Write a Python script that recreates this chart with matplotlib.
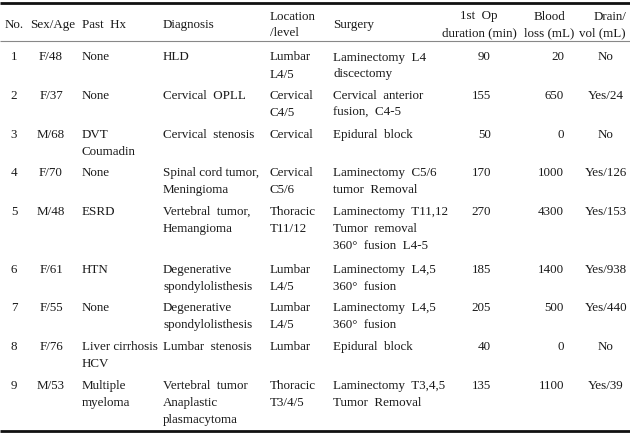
import matplotlib.pyplot as plt

# Table content
numbers = ["1", "2", "3", "4", "5", "6", "7", "8", "9"]
sex_age = ["F/48", "F/37", "M/68", "F/70", "M/48", "F/61", "F/55", "F/76", "M/53"]
past_hx = ["None", "None", "DVT\nCoumadin", "None", "ESRD", "HTN", "None",
           "Liver cirrhosis\nHCV", "Multiple\nmyeloma"]
diagnosis = ["HLD", "Cervical  OPLL", "Cervical  stenosis",
             "Spinal cord tumor,\nMeningioma", "Vertebral  tumor,\nHemangioma",
             "Degenerative\nspondylolisthesis", "Degenerative\nspondylolisthesis",
             "Lumbar  stenosis",
             "Vertebral  tumor\nAnaplastic\nplasmacytoma"]
location = ["Lumbar\nL4/5", "Cervical\nC4/5", "Cervical", "Cervical\nC5/6",
            "Thoracic\nT11/12", "Lumbar\nL4/5", "Lumbar\nL4/5", "Lumbar",
            "Thoracic\nT3/4/5"]
surgery = ["Laminectomy  L4\ndiscectomy", "Cervical  anterior\nfusion,  C4-5",
           "Epidural  block", "Laminectomy  C5/6\ntumor  Removal",
           "Laminectomy  T11,12\nTumor  removal\n360°  fusion  L4-5",
           "Laminectomy  L4,5\n360°  fusion", "Laminectomy  L4,5\n360°  fusion",
           "Epidural  block", "Laminectomy  T3,4,5\nTumor  Removal"]
duration = ["90", "155", "50", "170", "270", "185", "205", "40", "135"]
blood_loss = ["20", "650", "0", "1000", "4300", "1400", "500", "0", "1100"]
drain = ["No", "Yes/24", "No", "Yes/126", "Yes/153", "Yes/938", "Yes/440", "No", "Yes/39"]

headers = ["No.", "Sex/Age", "Past  Hx", "Diagnosis", "Location\n/level", "Surgery",
           "1st  Op\nduration (min)", "Blood\nloss (mL)", "Drain/\nvol (mL)"]

columns = [numbers, sex_age, past_hx, diagnosis, location, surgery,
           duration, blood_loss, drain]

# x position and alignment for each column (pixels)
col_x = [14, 51, 82, 163, 270, 333, 491, 564, 606]
col_ha = ["center", "center", "left", "left", "left", "left", "right", "right", "center"]
head_x = [5, 30, 82, 163, 270, 333, 479, 549, 626]
head_ha = ["left", "left", "left", "left", "left", "left", "center", "center", "right"]

W, H = 630, 433
fig = plt.figure(figsize=(W / 100, H / 100), dpi=100)
ax = fig.add_axes([0, 0, 1, 1])
ax.set_xlim(0, W)
ax.set_ylim(H, 0)
ax.axis("off")

font = dict(family="Liberation Serif", fontsize=9.4, color="#1a1a1a")
line_h = 17

# rules
ax.plot([0, W], [3, 3], color="#111111", lw=2.0, solid_capstyle="butt")
ax.plot([0, W], [41, 41], color="#888888", lw=0.8, solid_capstyle="butt")
ax.plot([0, W], [430.5, 430.5], color="#111111", lw=2.0, solid_capstyle="butt")

# header
for txt, x, ha in zip(headers, head_x, head_ha):
    lines = txt.split("\n")
    y0 = 23.5 if len(lines) == 1 else 15
    for i, ln in enumerate(lines):
        ax.text(x, y0 + i * line_h, ln, ha=ha, va="center_baseline", **font)

# body
row_y = 56
for r in range(len(numbers)):
    nmax = 1
    for col, x, ha in zip(columns, col_x, col_ha):
        lines = col[r].split("\n")
        nmax = max(nmax, len(lines))
        for i, ln in enumerate(lines):
            ax.text(x, row_y + i * line_h, ln, ha=ha, va="center_baseline", **font)
    row_y += max(nmax, 2) * 19.3

fig.savefig("out.png", dpi=100)
